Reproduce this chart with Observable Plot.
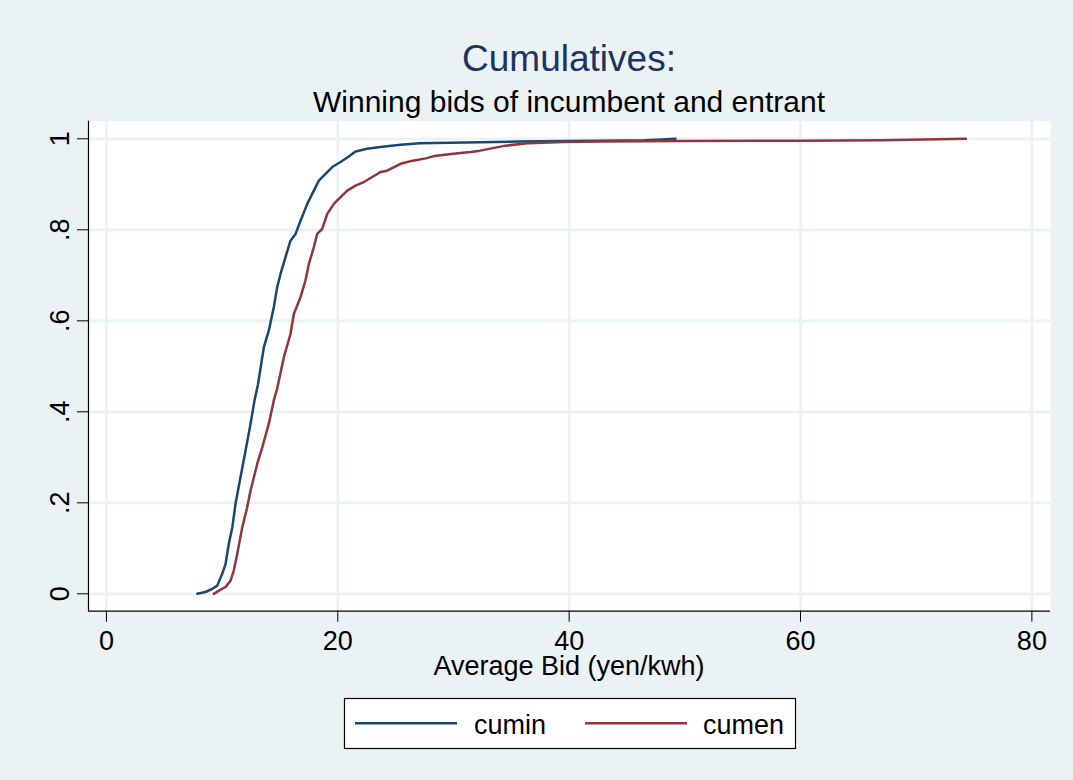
<!DOCTYPE html>
<html><head><meta charset="utf-8">
<script src="https://cdn.jsdelivr.net/npm/d3@7"></script>
<script src="https://cdn.jsdelivr.net/npm/@observablehq/plot@0.6"></script>
<style>
html,body{margin:0;padding:0;background:#eaf2f3;}
#wrap{position:relative;width:1073px;height:780px;background:#eaf2f3;overflow:hidden;}
#wrap svg{position:absolute;left:0;top:0;}
</style>
</head><body>
<div id="wrap"></div>
<script>
// ---- data ----
const titleText = "Cumulatives:";
const subtitleText = "Winning bids of incumbent and entrant";
const xTitle = "Average Bid (yen/kwh)";
const seriesNames = ["cumin", "cumen"];
const seriesColors = ["#1a476f", "#90353b"];
const xTicks = [0, 20, 40, 60, 80];
const yTicks = [0, 0.2, 0.4, 0.6, 0.8, 1];
const yTickLabels = ["0", ".2", ".4", ".6", ".8", "1"];

// cumin (incumbent): average bid, cumulative share
const cuminX = [7.85, 8.57, 9.15, 9.58, 10.01, 10.30, 10.58, 10.88, 11.16, 11.59, 12.03, 12.46, 12.80, 13.10, 13.61, 14.04, 14.47, 14.76, 15.05, 15.48, 15.91, 16.35, 16.78, 17.36, 17.79, 18.36, 18.94, 19.52, 20.24, 20.95, 21.53, 22.54, 23.69, 25.42, 27.1, 31.0, 35.6, 40.0, 42.7, 46.5, 47.6, 49.2];
const cuminY = [0.000, 0.004, 0.011, 0.018, 0.044, 0.066, 0.110, 0.146, 0.198, 0.256, 0.315, 0.374, 0.425, 0.460, 0.542, 0.579, 0.630, 0.674, 0.703, 0.740, 0.776, 0.791, 0.820, 0.857, 0.879, 0.908, 0.923, 0.938, 0.949, 0.961, 0.972, 0.978, 0.982, 0.987, 0.990, 0.992, 0.994, 0.995, 0.996, 0.997, 0.998, 1.000];

// cumen (entrant)
const cumenX = [9.28, 9.72, 10.30, 10.73, 11.01, 11.31, 11.74, 12.17, 12.46, 13.04, 13.47, 14.04, 14.47, 14.76, 15.34, 15.91, 16.20, 16.78, 17.21, 17.50, 17.93, 18.22, 18.65, 19.09, 19.66, 20.24, 20.82, 21.53, 22.25, 22.98, 23.69, 24.27, 25.42, 26.49, 27.6, 28.5, 30.0, 31.5, 32.3, 34.5, 36.4, 39.5, 42.7, 50.0, 60.0, 67.0, 74.3];
const cumenY = [0.000, 0.007, 0.015, 0.029, 0.051, 0.088, 0.146, 0.190, 0.227, 0.286, 0.322, 0.374, 0.425, 0.451, 0.520, 0.571, 0.615, 0.652, 0.689, 0.725, 0.762, 0.791, 0.802, 0.835, 0.857, 0.872, 0.886, 0.897, 0.905, 0.916, 0.927, 0.930, 0.945, 0.952, 0.957, 0.963, 0.967, 0.971, 0.974, 0.985, 0.990, 0.993, 0.994, 0.995, 0.996, 0.997, 1.000];

const rows = [
  ...cuminX.map((x, i) => ({x, y: cuminY[i], s: seriesNames[0]})),
  ...cumenX.map((x, i) => ({x, y: cumenY[i], s: seriesNames[1]}))
];

const xDomain = [-1.55, 81.61];
const yDomain = [-0.0382, 1.0387];
const font = "'Liberation Sans', Arial, Helvetica, sans-serif";
const gridColor = "#eaf2f3";

const chart = Plot.plot({
  width: 1073,
  height: 780,
  marginLeft: 88,
  marginRight: 23,
  marginTop: 120.7,
  marginBottom: 169.3,
  style: {background: "transparent", fontFamily: font, overflow: "visible", color: "#000"},
  x: {domain: xDomain},
  y: {domain: yDomain},
  color: {domain: seriesNames, range: seriesColors},
  marks: [
    Plot.frame({fill: "white", stroke: null}),
    Plot.gridX(xTicks, {stroke: gridColor, strokeOpacity: 1, strokeWidth: 2.7}),
    Plot.gridY(yTicks, {stroke: gridColor, strokeOpacity: 1, strokeWidth: 2.7}),
    Plot.line(rows, {x: "x", y: "y", z: "s", stroke: "s", strokeWidth: 2.5}),
    Plot.ruleX([xDomain[0]], {stroke: "#000", strokeWidth: 1.2}),
    Plot.ruleY([yDomain[0]], {stroke: "#000", strokeWidth: 1.2}),
    Plot.axisX(xTicks, {tickSize: 11, tickPadding: 9, fontSize: 27, label: null, stroke: "#000", fill: "#000", tickFormat: d => String(d)}),
    Plot.axisY(yTicks, {tickSize: 11, label: null, stroke: "#000", tickFormat: () => ""}),
    Plot.text(yTicks, {x: () => xDomain[0], y: d => d, text: (d, i) => yTickLabels[i], rotate: -90, dx: -28, textAnchor: "middle", lineAnchor: "middle", fontSize: 27, fill: "#000"})
  ]
});
document.getElementById("wrap").appendChild(chart);

// titles, axis title and legend (overlay)
const cx = (88 + 1050) / 2;
const ov = d3.select("#wrap").append("svg")
  .attr("width", 1073).attr("height", 780)
  .style("font-family", font);
ov.append("text").attr("x", cx).attr("y", 70.7).attr("text-anchor", "middle")
  .attr("font-size", 37).attr("fill", "#1c3263").text(titleText);
ov.append("text").attr("x", cx).attr("y", 112).attr("text-anchor", "middle")
  .attr("font-size", 30).attr("fill", "#000").text(subtitleText);
ov.append("text").attr("x", cx).attr("y", 675).attr("text-anchor", "middle")
  .attr("font-size", 27).attr("fill", "#000").text(xTitle);

const lg = ov.append("g");
lg.append("rect").attr("x", 344.5).attr("y", 698.5).attr("width", 451).attr("height", 50)
  .attr("fill", "white").attr("stroke", "#000").attr("stroke-width", 1.2);
const entries = [{x: 355, tx: 474}, {x: 585, tx: 703}];
seriesNames.forEach((name, i) => {
  lg.append("line").attr("x1", entries[i].x).attr("x2", entries[i].x + 102)
    .attr("y1", 723.3).attr("y2", 723.3).attr("stroke", seriesColors[i]).attr("stroke-width", 2.5);
  lg.append("text").attr("x", entries[i].tx).attr("y", 734).attr("font-size", 27)
    .attr("fill", "#000").text(name);
});
</script>
</body></html>
